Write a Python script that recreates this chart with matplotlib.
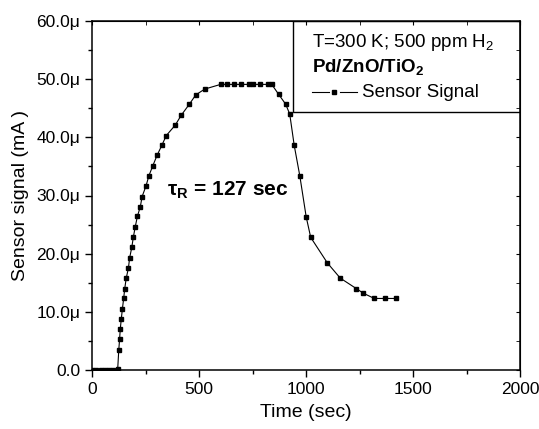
import matplotlib
matplotlib.use("Agg")
import matplotlib.pyplot as plt
from matplotlib.ticker import MultipleLocator, FuncFormatter

plt.rcParams['font.family'] = ['Liberation Sans', 'DejaVu Sans']
plt.rcParams['mathtext.fontset'] = 'custom'
plt.rcParams['mathtext.rm'] = 'Liberation Sans'
plt.rcParams['mathtext.bf'] = 'Liberation Sans:bold'
plt.rcParams['mathtext.it'] = 'Liberation Sans:italic'

# time (sec) and signal (in units of 1e-6 shown as "μ")
time_s = [0, 20, 40, 60, 80, 100, 120, 125, 129, 132, 137, 142, 148, 153, 160, 170,
          176, 186, 193, 202, 212, 226, 234, 252, 266, 284, 304, 326, 347, 389,
          417, 455, 485, 527, 601, 629, 664, 698, 735, 754, 785, 824, 840, 872,
          905, 924, 945, 971, 1001, 1022, 1100, 1160, 1235, 1268, 1319, 1369, 1419]
signal = [0.0, 0.0, 0.0, 0.0, 0.0, 0.0, 0.1, 3.4, 5.3, 7.0, 8.8, 10.5, 12.3, 14.0, 15.8, 17.5,
          19.3, 21.1, 22.8, 24.6, 26.4, 28.1, 29.8, 31.6, 33.4, 35.1, 36.9, 38.6, 40.3, 42.1,
          43.8, 45.7, 47.3, 48.3, 49.1, 49.1, 49.1, 49.1, 49.1, 49.1, 49.1, 49.1, 49.1, 47.4,
          45.7, 44.0, 38.6, 33.4, 26.3, 22.8, 18.4, 15.8, 14.0, 13.2, 12.3, 12.3, 12.3]

fig = plt.figure(figsize=(5.39, 4.29), dpi=100)
ax = fig.add_axes([92/539, 59/429, 428/539, 349/429])

ax.plot(time_s, signal, color='black', linewidth=0.8, marker='s', markersize=3.2,
        markerfacecolor='black', markeredgecolor='black')

ax.set_xlim(0, 2000)
ax.set_ylim(0, 60)
ax.xaxis.set_major_locator(MultipleLocator(500))
ax.xaxis.set_minor_locator(MultipleLocator(250))
ax.yaxis.set_major_locator(MultipleLocator(10))
ax.yaxis.set_minor_locator(MultipleLocator(5))
ax.yaxis.set_major_formatter(FuncFormatter(lambda v, p: '0.0' if v == 0 else f'{v:.1f}μ'))

ax.tick_params(which='both', direction='out', top=False, right=False, labelsize=12.5, width=1)
ax.tick_params(which='major', length=5)
ax.tick_params(which='minor', length=3)
for s in ax.spines.values():
    s.set_linewidth(1.1)

# inward ticks on top and right
sec_x = ax.secondary_xaxis('top')
sec_x.xaxis.set_major_locator(MultipleLocator(500))
sec_x.xaxis.set_minor_locator(MultipleLocator(250))
sec_x.tick_params(which='both', direction='in', labeltop=False, length=3)
sec_y = ax.secondary_yaxis('right')
sec_y.yaxis.set_major_locator(MultipleLocator(10))
sec_y.yaxis.set_minor_locator(MultipleLocator(5))
sec_y.tick_params(which='both', direction='in', labelright=False, length=3)

ax.set_xlabel('Time (sec)', fontsize=14, labelpad=5)
ax.set_ylabel('Sensor signal (mA )', fontsize=14, labelpad=5)

ax.text(350, 30, r'$\mathbf{\tau_R}$ = 127 sec', fontsize=15, fontweight='bold',
        ha='left', va='baseline')

# legend box
box = plt.Rectangle((0.47, 0.739), 0.53, 0.261, transform=ax.transAxes,
                    fill=False, edgecolor='black', linewidth=1)
ax.add_patch(box)
ax.text(0.514, 0.925, r'T=300 K; 500 ppm H$_2$', transform=ax.transAxes, fontsize=13.5, va='baseline')
ax.text(0.514, 0.853, r'Pd/ZnO/TiO$_\mathbf{2}$', transform=ax.transAxes, fontsize=13.5,
        fontweight='bold', va='baseline')
ax.plot([0.514, 0.553], [0.797, 0.797], transform=ax.transAxes, color='black', linewidth=0.8)
ax.plot([0.580, 0.619], [0.797, 0.797], transform=ax.transAxes, color='black', linewidth=0.8)
ax.plot([0.5665], [0.797], transform=ax.transAxes, color='black', marker='s', markersize=3.2,
        linestyle='none')
ax.text(0.631, 0.782, 'Sensor Signal', transform=ax.transAxes, fontsize=13.5, va='baseline')

fig.savefig('out.png', dpi=100)
